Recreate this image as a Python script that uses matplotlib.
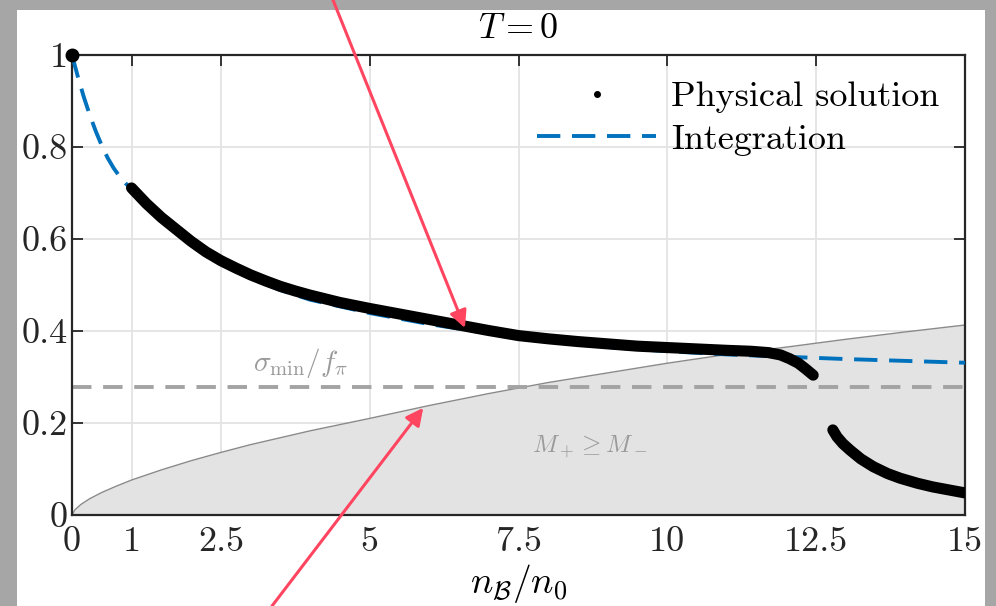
import numpy as np
import matplotlib
matplotlib.use('Agg')
import matplotlib.pyplot as plt
from matplotlib.lines import Line2D
from matplotlib.patches import Rectangle

plt.rcParams['mathtext.fontset'] = 'cm'
plt.rcParams['font.family'] = 'serif'
plt.rcParams['font.serif'] = ['cmr10']
plt.rcParams['axes.formatter.use_mathtext'] = True

# integration curve (blue dashed)
x_int = [0, 0.1, 0.2, 0.3, 0.4, 0.5, 0.6, 0.7, 0.8, 0.9, 1, 1.5, 2, 2.5, 3, 3.5, 4, 5, 6, 7, 8, 9,
         10, 11, 12, 13, 14, 15]
y_int = [1.0, 0.952, 0.908, 0.869, 0.834, 0.803, 0.776, 0.754, 0.736, 0.721, 0.709, 0.643, 0.590,
         0.548, 0.515, 0.489, 0.468, 0.439, 0.415, 0.395, 0.377, 0.365, 0.356, 0.349, 0.344, 0.339,
         0.335, 0.331]

# physical solution, two branches + point at origin
x_phys1 = [1, 1.25, 1.5, 1.75, 2, 2.25, 2.5, 2.75, 3, 3.25, 3.5, 3.75, 4, 4.5, 5, 5.5, 6, 6.5, 7,
           7.5, 8, 8.5, 9, 9.5, 10, 10.5, 11, 11.4, 11.7, 11.9, 12.05, 12.2, 12.32, 12.45]
y_phys1 = [0.711, 0.677, 0.647, 0.621, 0.595, 0.572, 0.553, 0.537, 0.522, 0.509, 0.497, 0.487,
           0.478, 0.462, 0.449, 0.437, 0.425, 0.413, 0.401, 0.390, 0.383, 0.377, 0.372, 0.367,
           0.364, 0.361, 0.358, 0.356, 0.353, 0.348, 0.340, 0.330, 0.318, 0.304]
x_phys2 = [12.78, 12.85, 12.95, 13.07, 13.25, 13.46, 13.7, 13.91, 14.2, 14.46, 14.75, 15]
y_phys2 = [0.185, 0.170, 0.155, 0.141, 0.122, 0.105, 0.090, 0.080, 0.069, 0.061, 0.054, 0.048]
x_phys0 = [0]
y_phys0 = [1]

# M+ >= M- boundary
x_bnd = [0, 0.05, 0.15, 0.3, 0.5, 0.75, 1, 1.5, 2, 2.5, 3, 3.5, 4, 5, 6, 7, 8, 9, 10, 11, 12,
         13, 14, 15]
y_bnd = [0, 0.0115, 0.023, 0.0356, 0.049, 0.063, 0.076, 0.098, 0.118, 0.136, 0.153, 0.168, 0.183,
         0.210, 0.238, 0.264, 0.288, 0.309, 0.330, 0.349, 0.365, 0.382, 0.398, 0.413]

sigma_min = 0.278

xticks = [0, 1, 2.5, 5, 7.5, 10, 12.5, 15]
xticklabels = ['0', '1', '2.5', '5', '7.5', '10', '12.5', '15']
yticks = [0, 0.2, 0.4, 0.6, 0.8, 1]
yticklabels = ['0', '0.2', '0.4', '0.6', '0.8', '1']

fig = plt.figure(figsize=(9.96, 6.06), dpi=100, facecolor='#a6a6a6')
fig.add_artist(Rectangle((17 / 996, 0), (985 - 17) / 996, 1 - 10 / 606,
                         transform=fig.transFigure, facecolor='white', edgecolor='none', zorder=0))
ax = fig.add_axes([72 / 996, 1 - 515 / 606, (965 - 72) / 996, 460 / 606])
ax.set_facecolor('none')

ax.fill_between(x_bnd, 0, y_bnd, color='#e3e3e3', zorder=1, lw=0)
ax.plot(x_bnd, y_bnd, color='#8a8a8a', lw=1, zorder=2)
ax.axhline(sigma_min, color='#a3a3a3', lw=2.8, dashes=(5, 3), zorder=2)

ax.plot(x_int, y_int, color='#0072BD', lw=2.8, dashes=(6, 3), zorder=3)
ax.plot(x_phys1, y_phys1, color='black', lw=8, solid_capstyle='round', solid_joinstyle='round', zorder=4)
ax.plot(x_phys2, y_phys2, color='black', lw=8, solid_capstyle='round', solid_joinstyle='round', zorder=4)
ax.plot(x_phys0, y_phys0, 'o', color='black', ms=9, zorder=5, clip_on=False)

ax.text(3.83, 0.33, r'$\sigma_{\min}/f_\pi$', color='#9a9a9a', fontsize=21, ha='center', va='center')
ax.text(8.7, 0.148, r'$M_+ \geq M_-$', color='#9a9a9a', fontsize=18, ha='center', va='center')

ax.set_xlim(0, 15)
ax.set_ylim(0, 1)
ax.set_xticks(xticks)
ax.set_xticklabels(xticklabels)
ax.set_yticks(yticks)
ax.set_yticklabels(yticklabels)
ax.tick_params(direction='in', length=8, width=1.3, top=True, right=True, labelsize=26, colors='#262626')
ax.tick_params(axis='x', pad=8)
ax.tick_params(axis='y', pad=3)
for s in ax.spines.values():
    s.set_linewidth(1.6)
    s.set_color('#262626')
ax.grid(True, color='#e3e3e3', lw=1.3)
ax.set_axisbelow(True)

ax.set_title(r'$T=0$', fontsize=26, pad=12)
ax.set_xlabel(r'$n_\mathcal{B}/n_0$', fontsize=27, labelpad=3)

handles = [Line2D([], [], color='black', marker='.', ms=8, ls='none'),
           Line2D([], [], color='#0072BD', lw=2.8, dashes=(6, 3))]
ax.legend(handles, ['Physical solution', 'Integration'], loc='upper right', frameon=False,
          fontsize=26, handlelength=3.3, borderaxespad=0.42, labelspacing=0.28, handletextpad=0.4,
          borderpad=0.3)

red = '#ff4560'
ax.annotate('', xy=(6.6, 0.4065), xycoords='data', xytext=(333, 606), textcoords='figure pixels',
            arrowprops=dict(arrowstyle='-|>', color=red, lw=2.2, mutation_scale=26, shrinkA=0, shrinkB=0),
            annotation_clip=False, zorder=10)
ax.annotate('', xy=(5.9, 0.233), xycoords='data', xytext=(272, 0), textcoords='figure pixels',
            arrowprops=dict(arrowstyle='-|>', color=red, lw=2.2, mutation_scale=26, shrinkA=0, shrinkB=0),
            annotation_clip=False, zorder=10)

fig.savefig('out.png', dpi=100, facecolor=fig.get_facecolor())
